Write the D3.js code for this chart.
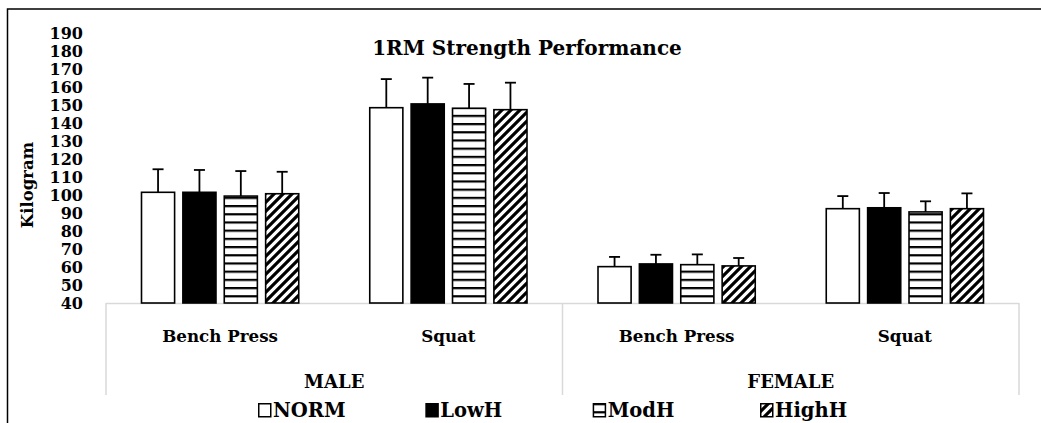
<!DOCTYPE html>
<html><head><meta charset="utf-8">
<script src="https://cdn.jsdelivr.net/npm/d3@7"></script>
<style>
body{margin:0;background:#fff}
text{font-family:"DejaVu Serif",serif;font-weight:bold;fill:#000}
</style>
</head><body><svg id="c" width="1041" height="423"></svg>
<script>
const title = "1RM Strength Performance";
const yLabel = "Kilogram";
const genders = ["MALE", "FEMALE"];
const exercises = ["Bench Press", "Squat"];
const categories = ["MALE|Bench Press", "MALE|Squat", "FEMALE|Bench Press", "FEMALE|Squat"];
const series = ["NORM", "LowH", "ModH", "HighH"];
const normMean = [101.5, 148.5, 60.2, 92.4];
const normSD   = [12.8, 15.9, 5.4, 7.0];
const lowMean  = [101.5, 150.6, 61.7, 92.9];
const lowSD    = [12.4, 14.6, 5.1, 8.2];
const modMean  = [99.4, 148.2, 61.3, 90.6];
const modSD    = [13.9, 13.5, 5.7, 5.9];
const highMean = [100.7, 147.4, 60.6, 92.4];
const highSD   = [12.2, 15.0, 4.4, 8.5];
const yTicks = [40,50,60,70,80,90,100,110,120,130,140,150,160,170,180,190];

const means = [normMean, lowMean, modMean, highMean];
const sds = [normSD, lowSD, modSD, highSD];
const data = [];
categories.forEach((c, ci) => series.forEach((s, si) => {
  data.push({cat: c, ser: s, si, v: means[si][ci], sd: sds[si][ci]});
}));

const svg = d3.select("#c");
const W = 1041, H = 423;
svg.append("rect").attr("width", W).attr("height", H).attr("fill", "#fff");

// patterns
const defs = svg.append("defs");
const ph = defs.append("pattern").attr("id", "hl").attr("patternUnits", "userSpaceOnUse")
  .attr("width", 8).attr("height", 8.2);
ph.append("rect").attr("width", 8).attr("height", 8.2).attr("fill", "#fff");
ph.append("rect").attr("y", 0).attr("width", 8).attr("height", 2.2).attr("fill", "#000");
const pd = defs.append("pattern").attr("id", "dg").attr("patternUnits", "userSpaceOnUse")
  .attr("width", 9).attr("height", 9);
pd.append("rect").attr("width", 9).attr("height", 9).attr("fill", "#fff");
pd.append("path").attr("d", "M0,9L9,0M-3,3L3,-3M6,12L12,6").attr("stroke", "#000").attr("stroke-width", 3.2);
const fills = {NORM: "#fff", LowH: "#000", ModH: "url(#hl)", HighH: "url(#dg)"};

const pLeft = 106, pRight = 1019, pTop = 33, pBottom = 303;
const y = d3.scaleLinear().domain([40, 190]).range([pBottom, pTop]);
const x0 = d3.scaleBand().domain(categories).range([pLeft, pRight]);
const x1 = d3.scaleBand().domain(series).range([35.5, x0.bandwidth() - 35.5]).paddingInner(0.2);
const xg = d3.scaleBand().domain(genders).range([pLeft, pRight]);

// outer border
svg.append("path").attr("d", `M7.5,${H}V9H${W}`).attr("fill", "none").attr("stroke", "#000").attr("stroke-width", 1.5);

// title
svg.append("text").attr("x", 527).attr("y", 55).attr("text-anchor", "middle")
  .attr("font-size", 20).text(title);

// y axis
const ya = svg.append("g").attr("transform", "translate(88,0)")
  .call(d3.axisLeft(y).tickValues(yTicks).tickSize(0).tickPadding(5));
ya.select(".domain").remove();
ya.selectAll("text").attr("font-size", 16).style("font-family", '"DejaVu Serif",serif').style("font-weight", "bold").attr("fill", "#000");

svg.append("text").attr("transform", `translate(33,${(pTop + pBottom) / 2 + 17}) rotate(-90)`)
  .attr("text-anchor", "middle").attr("font-size", 16.5).text(yLabel);

// category axis lines
const ax = svg.append("g").attr("stroke", "#d9d9d9").attr("stroke-width", 1.5).attr("fill", "none");
ax.append("line").attr("x1", pLeft).attr("x2", pRight).attr("y1", pBottom + 0.5).attr("y2", pBottom + 0.5);
[pLeft, xg("FEMALE"), pRight].forEach(v => {
  ax.append("line").attr("x1", v).attr("x2", v).attr("y1", pBottom).attr("y2", 395);
});

// bars
const bars = svg.append("g");
bars.selectAll("rect").data(data).join("rect")
  .attr("x", d => x0(d.cat) + x1(d.ser))
  .attr("y", d => y(d.v))
  .attr("width", x1.bandwidth())
  .attr("height", d => y(40) - y(d.v))
  .attr("fill", d => fills[d.ser])
  .attr("stroke", "#000").attr("stroke-width", 1.6);

// error bars
const eb = svg.append("g").attr("stroke", "#000").attr("stroke-width", 1.8);
data.forEach(d => {
  const cx = x0(d.cat) + x1(d.ser) + x1.bandwidth() / 2;
  eb.append("line").attr("x1", cx).attr("x2", cx).attr("y1", y(d.v)).attr("y2", y(d.v + d.sd));
  eb.append("line").attr("x1", cx - 5.5).attr("x2", cx + 5.5).attr("y1", y(d.v + d.sd)).attr("y2", y(d.v + d.sd));
});

// category labels
categories.forEach(c => {
  svg.append("text").attr("x", x0(c) + x0.bandwidth() / 2).attr("y", 342)
    .attr("text-anchor", "middle").attr("font-size", 16.7).text(c.split("|")[1]);
});
genders.forEach(g => {
  svg.append("text").attr("x", xg(g) + xg.bandwidth() / 2).attr("y", 388)
    .attr("text-anchor", "middle").attr("font-size", 18).text(g);
});

// legend
const lx = d3.scalePoint().domain(series).range([258, 760]);
series.forEach(s => {
  const g = svg.append("g").attr("transform", `translate(${lx(s)},403)`);
  g.append("rect").attr("x", 0.75).attr("y", 0.75).attr("width", 12).attr("height", 13)
    .attr("fill", fills[s]).attr("stroke", "#000").attr("stroke-width", 1.5);
  g.append("text").attr("x", 15).attr("y", 14).attr("font-size", 19.5).text(s);
});
</script>
</body></html>
